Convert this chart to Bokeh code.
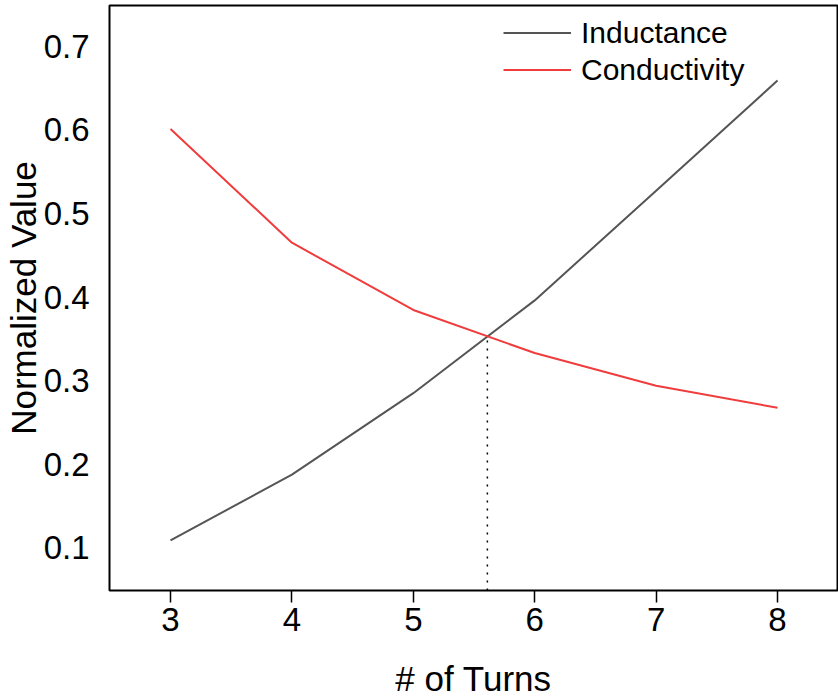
from bokeh.plotting import figure
from bokeh.models import FixedTicker, Legend, LegendItem, Range1d
from bokeh.embed import file_html
from bokeh.resources import INLINE

turns = [3, 4, 5, 6, 7, 8]
inductance = [0.109, 0.1875, 0.285, 0.396, 0.527, 0.659]
conductivity = [0.601, 0.465, 0.3845, 0.333, 0.294, 0.2675]
cross_x = [5.61, 5.61]
cross_y = [0.049, 0.353]
x_ticks = [3, 4, 5, 6, 7, 8]
y_ticks = [0.1, 0.2, 0.3, 0.4, 0.5, 0.6, 0.7]

FONT = "Liberation Sans"

p = figure(width=838, height=700, output_backend="svg", toolbar_location=None,
           x_range=Range1d(2.4975, 8.494), y_range=Range1d(0.049, 0.7487),
           min_border_left=109, min_border_right=1, min_border_top=5,
           min_border_bottom=109)

p.xgrid.visible = False
p.ygrid.visible = False
p.outline_line_color = "black"
p.outline_line_width = 2
p.background_fill_color = "white"
p.border_fill_color = "white"

r1 = p.line(turns, inductance, line_color="#555555", line_width=2)
r2 = p.line(turns, conductivity, line_color="#F03C3C", line_width=2)
p.line(cross_x, cross_y, line_color="black", line_width=1.5, line_dash="2 6")

xa = p.xaxis[0]
xa.ticker = FixedTicker(ticks=x_ticks)
xa.axis_line_color = None
xa.major_tick_out = 12
xa.major_tick_in = 0
xa.major_tick_line_width = 1.5
xa.minor_tick_out = 0
xa.minor_tick_in = 0
xa.major_label_standoff = 5
xa.major_label_text_font = FONT
xa.major_label_text_font_size = "33px"
xa.major_label_text_color = "black"
xa.major_label_text_line_height = 1.0
xa.axis_label = "# of Turns"
xa.axis_label_text_font = FONT
xa.axis_label_text_font_size = "35px"
xa.axis_label_text_font_style = "normal"
xa.axis_label_text_color = "black"
xa.axis_label_text_line_height = 1.0
xa.axis_label_standoff = 25

ya = p.yaxis[0]
ya.ticker = FixedTicker(ticks=y_ticks)
ya.axis_line_color = None
ya.major_tick_out = 0
ya.major_tick_in = 0
ya.minor_tick_out = 0
ya.minor_tick_in = 0
ya.major_label_standoff = 20
ya.major_label_text_font = FONT
ya.major_label_text_font_size = "33px"
ya.major_label_text_color = "black"
ya.major_label_text_line_height = 1.0
ya.axis_label = "Normalized Value"
ya.axis_label_text_font = FONT
ya.axis_label_text_font_size = "35px"
ya.axis_label_text_font_style = "normal"
ya.axis_label_text_color = "black"
ya.axis_label_text_line_height = 1.0
ya.axis_label_standoff = -2

legend = Legend(items=[LegendItem(label="Inductance", renderers=[r1]),
                       LegendItem(label="Conductivity", renderers=[r2])],
                location=(394, 502), padding=0, margin=0, spacing=0,
                glyph_width=68, glyph_height=37, label_height=37,
                label_standoff=10, label_text_font=FONT,
                label_text_font_size="30px", label_text_color="black",
                border_line_color=None, background_fill_alpha=0)
p.add_layout(legend, "center")

open("out.html", "w").write(file_html(p, INLINE))
